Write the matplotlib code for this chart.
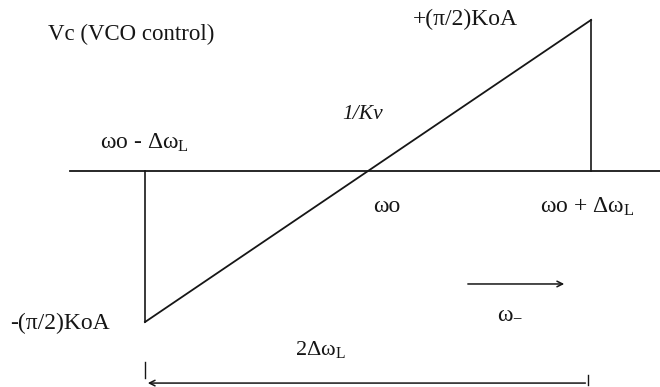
import matplotlib.pyplot as plt

plt.rcParams['font.family'] = ['Liberation Serif', 'DejaVu Serif']
plt.rcParams['mathtext.fontset'] = 'custom'
plt.rcParams['mathtext.rm'] = 'Liberation Serif'
plt.rcParams['mathtext.it'] = 'Liberation Serif:italic'

# phase detector output vs input frequency (w in units of dwL about wo, Vc in units of (pi/2)KoA)
w_lock = [-1.0, 1.0]
vc_lock = [-1.0, 1.0]
w_edges = [-1.0, 1.0]
ink = '#161616'

fig = plt.figure(figsize=(6.6, 3.87), dpi=100)
ax = fig.add_axes([0, 0, 1, 1])
ax.set_xlim(-1.650, 1.309)
ax.set_ylim(-1.430, 1.132)
ax.axis('off')

# frequency axis
ax.plot([-1.336, 1.309], [0, 0], color=ink, lw=1.3)
# linear lock range, slope 1/Kv
ax.plot(w_lock, vc_lock, color=ink, lw=1.3)
# drop to/from the axis at the lock edges
ax.plot([w_edges[0], w_edges[0]], [0, vc_lock[0]], color=ink, lw=1.2)
ax.plot([w_edges[1], w_edges[1]], [0, vc_lock[1]], color=ink, lw=1.2)

# 2*dwL dimension line
ax.annotate('', xy=(w_edges[0], -1.404), xytext=(0.987, -1.404),
            arrowprops=dict(arrowstyle='->', color=ink, lw=1.1, mutation_scale=10))
ax.plot([w_edges[0], w_edges[0]], [-1.265, -1.371], color=ink, lw=1.0)
ax.plot([0.987, 0.987], [-1.351, -1.417], color=ink, lw=1.0)

# sweep direction arrow
ax.annotate('', xy=(0.892, -0.748), xytext=(0.435, -0.748),
            arrowprops=dict(arrowstyle='->', color=ink, lw=1.1, mutation_scale=10))

fs = 17
ax.text(-1.435, 0.901, 'Vc (VCO control)', fontsize=fs - 0.5, va='center', color=ink)
ax.text(-1.202, 0.185, 'ωo - Δω$_\\mathrm{L}$', fontsize=fs, va='center', color=ink)
ax.text(-0.117, 0.371, '1/Kv', fontsize=fs - 1.5, style='italic', va='center', color=ink)
ax.text(0.202, 1.0, '+(π/2)KoA', fontsize=fs, va='center', color=ink)
ax.text(0.022, -0.238, 'ωo', fontsize=fs, va='center', color=ink)
ax.text(0.771, -0.238, 'ωo + Δω$_\\mathrm{L}$', fontsize=fs, va='center', color=ink)
ax.text(-1.605, -1.007, '-(π/2)KoA', fontsize=fs, va='center', color=ink)
ax.text(-0.327, -1.185, '2Δω$_\\mathrm{L}$', fontsize=fs - 1, va='center', color=ink)
ax.text(0.578, -0.940, 'ω$_{-}$', fontsize=fs, va='center', color=ink)

fig.savefig('out.png', dpi=100, facecolor='white')
